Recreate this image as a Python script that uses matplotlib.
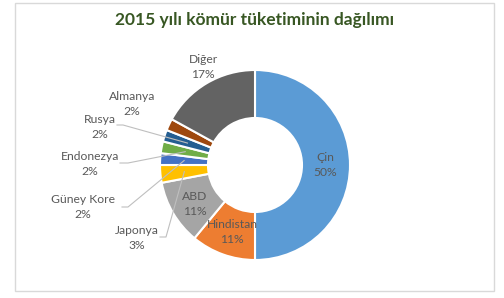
import matplotlib
matplotlib.use("Agg")
import matplotlib.pyplot as plt
from matplotlib.patches import Rectangle
import numpy as np

categories = ["Çin", "Hindistan", "ABD", "Japonya", "Güney Kore",
              "Endonezya", "Rusya", "Almanya", "Diğer"]
values = [50, 11, 11, 3, 2, 2, 2, 2, 17]
title = "2015 yılı kömür tüketiminin dağılımı"

colors = ["#5B9BD5", "#ED7D31", "#A5A5A5", "#FFC000", "#4472C4",
          "#70AD47", "#255E91", "#9E480E", "#636363"]

W, H = 504, 298
fig = plt.figure(figsize=(W / 100, H / 100), dpi=100)
ax = fig.add_axes([0, 0, 1, 1])

def Y(y):
    return H - y

cx, cy, R = 255, 165, 95
ring = 48
ax.pie(values, colors=colors, startangle=90, counterclock=False,
       radius=R, center=(cx, Y(cy)),
       wedgeprops=dict(width=ring, edgecolor="white", linewidth=1.5))
ax.set_xlim(0, W)
ax.set_ylim(0, H)
ax.set_aspect("equal")
ax.axis("off")

# frame
ax.add_patch(Rectangle((15, Y(291)), 479, 288, fill=False,
                       edgecolor="#D9D9D9", linewidth=1.0, zorder=0))

font = ["Lato", "DejaVu Sans"]
ax.text(255, Y(20), title, ha="center", va="center", fontsize=12.5,
        fontweight="bold", color="#385723", family=font)

# label positions (pixel, center of text block)
label_pos = {
    "Çin": (325, 165), "Hindistan": (232, 232), "ABD": (195, 204),
    "Japonya": (137, 238), "Güney Kore": (83, 207), "Endonezya": (90, 164),
    "Rusya": (100, 127), "Almanya": (132, 104), "Diğer": (203, 67),
}
# leader line start points (pixel), elbow
leaders = {
    "Rusya": [(117, 125), (123, 125)],
    "Endonezya": [(120, 163), (128, 163)],
    "Güney Kore": [(122, 207), (128, 207)],
    "Japonya": [(160, 237), (166, 237)],
}

cum = np.cumsum([0] + values[:-1])
total = sum(values)
for cat, v, c0 in zip(categories, values, cum):
    lx, ly = label_pos[cat]
    ax.text(lx, Y(ly), f"{cat}\n{v}%", ha="center", va="center",
            fontsize=8.7, color="#595959", family=font, linespacing=1.5)
    if cat in leaders:
        mid = (c0 + v / 2) / total
        ang = np.deg2rad(90 - 360 * mid)
        rm = R - ring / 2
        px = cx + rm * np.cos(ang)
        py = Y(cy) + rm * np.sin(ang)
        pts = [(x, Y(y)) for x, y in leaders[cat]] + [(px, py)]
        xs, ys = zip(*pts)
        ax.plot(xs, ys, color="#BFBFBF", linewidth=0.8, zorder=5)

fig.savefig("out.png", dpi=100)
